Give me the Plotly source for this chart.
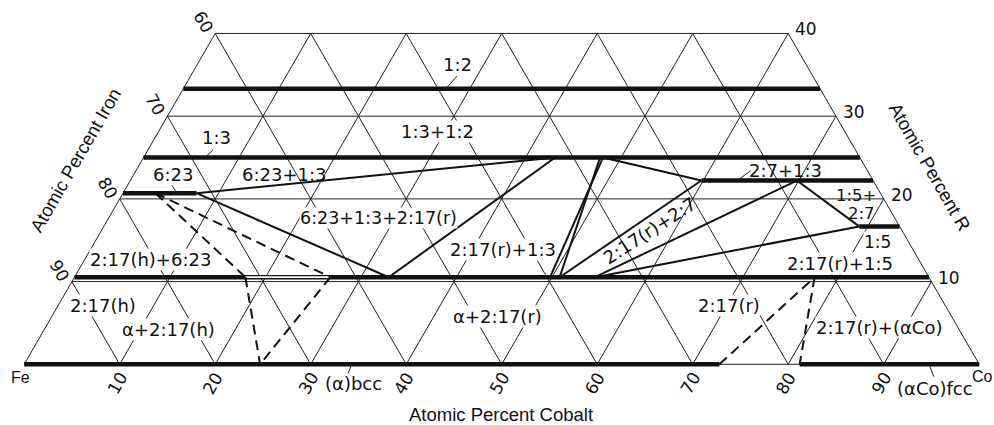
import numpy as np
import plotly.graph_objects as go

# ---------------- data (composition coordinates: at.% Co, at.% R) ----------------
# line compounds (constant R), Co range covered
cmp_names = ["1:2", "1:3", "2:7", "6:23", "1:5", "2:17"]
cmp_R = [33.33, 25.0, 22.22, 20.69, 16.67, 10.53]
cmp_co_lo = [0.0, 0.0, 59.8, 0.0, 79.1, 0.0]
cmp_co_hi = [66.67, 75.0, 77.78, 7.7, 83.33, 89.47]

# 2:17(h)+2:17(r) gap on the 2:17 line
gap217_co = [17.9, 26.8]

# terminal solid solutions on the Fe-Co edge
bcc_co = [0.0, 72.8]
fcc_co = [81.2, 100.0]

# solid tie lines (Co1, R1) -> (Co2, R2)
tie_co1 = [7.7, 7.7, 32.9, 48.1, 47.8, 48.1, 50.8, 54.5, 54.5, 69.8]
tie_r1 = [20.69, 20.69, 10.53, 25.0, 25.0, 25.0, 10.53, 10.53, 10.53, 22.22]
tie_co2 = [43.1, 32.9, 43.1, 49.8, 50.8, 59.8, 59.8, 69.8, 79.1, 79.1]
tie_r2 = [25.0, 10.53, 25.0, 10.53, 10.53, 22.22, 22.22, 22.22, 16.67, 16.67]

# dashed boundaries
dash1_co = [3.4, 17.9, 24.7]
dash1_r = [20.69, 10.53, 0.0]
dash2_co = [3.4, 26.8, 24.7]
dash2_r = [20.69, 10.53, 0.0]
dash3_co = [72.8, 77.5, 81.2]
dash3_r = [0.0, 10.53, 0.0]

# region / phase labels
lbl_text = ["1:2", "1:3+1:2", "1:3", "6:23", "6:23+1:3", "2:7+1:3", "1:5+", "2:7", "1:5",
            "6:23+1:3+2:17(r)", "2:17(r)+1:3", "2:17(r)+1:5", "2:17(h)+6:23", "2:17(h)",
            "α+2:17(h)", "α+2:17(r)", "2:17(r)", "2:17(r)+(αCo)", "(α)bcc", "(αCo)fcc",
            "2:17(r)+2:7"]
lbl_co = [27.27, 29.28, 6.5, 4.13, 15.76, 68.0, 76.9, 78.56, 82.0,
          28.25, 43.17, 79.3, 6.94, 4.68,
          12.99, 46.72, 70.2, 87.3, 35.63, 96.8,
          57.47]
lbl_r = [36.2, 28.09, 27.37, 22.89, 22.89, 23.49, 20.35, 18.2, 14.73,
         17.69, 13.94, 12.21, 12.67, 7.05,
         4.15, 5.78, 7.17, 4.39, -2.38, -2.87,
         16.12]
lbl_angle = [0] * 20 + [-33]
lbl_size = [18, 18, 18, 18, 18, 18, 16.5, 16.5, 17,
            17.5, 18, 18, 18, 18,
            18, 18, 18, 18, 18, 18,
            18]
lbl_bg = [True, True, True, True, False, False, False, False, True,
          True, True, True, True, True,
          True, True, True, True, False, False,
          False]

# leader lines
lead_co1 = [27.89, 6.81, 4.61, 64.37, 34.3, 94.75]
lead_r1 = [34.86, 25.93, 21.68, 23.41, 0.0, 0.0]
lead_co2 = [27.5, 6.43, 5.63, 63.56, 34.46, 96.0]
lead_r2 = [33.33, 25.0, 20.69, 22.22, -1.11, -1.5]

# axis tick labels
co_ticks = [10, 20, 30, 40, 50, 60, 70, 80, 90]
fe_ticks = [60, 70, 80, 90]
r_ticks = [40, 30, 20, 10]

R_MAX = 40
S3 = np.sqrt(3) / 2


def xy(co, r):
    return co + r / 2.0, r * S3


fig = go.Figure()


def add_segments(segs, width, color="#111111", dash=None):
    xs, ys = [], []
    for (c1, r1, c2, r2) in segs:
        x1, y1 = xy(c1, r1)
        x2, y2 = xy(c2, r2)
        xs += [x1, x2, None]
        ys += [y1, y2, None]
    fig.add_trace(go.Scatter(x=xs, y=ys, mode="lines",
                             line=dict(width=width, color=color, dash=dash),
                             hoverinfo="skip", showlegend=False))


# ---------------- grid ----------------
grid = []
for r in (10, 20, 30):
    grid.append((0, r, 100 - r, r))
grid.append((0, R_MAX, 100 - R_MAX, R_MAX))   # top
grid.append((0, 0, 100, 0))                   # bottom
grid.append((0, 0, 0, R_MAX))                 # left edge
grid.append((100, 0, 100 - R_MAX, R_MAX))     # right edge
for c in range(10, 100, 10):
    rm = min(R_MAX, 100 - c)
    grid.append((c, 0, c, rm))
for f in range(10, 100, 10):
    s = 100 - f
    rm = min(R_MAX, s)
    grid.append((s, 0, s - rm, rm))
add_segments(grid, 1.0, "#222222")

# ---------------- thick compound lines ----------------
thick = [(lo, r, hi, r) for lo, hi, r in zip(cmp_co_lo, cmp_co_hi, cmp_R)]
thick.append((bcc_co[0], 0, bcc_co[1], 0))
thick.append((fcc_co[0], 0, fcc_co[1], 0))
add_segments(thick, 4.5, "#111111")
add_segments([(gap217_co[0], cmp_R[5], gap217_co[1], cmp_R[5])], 1.8, "white")

# ---------------- tie lines ----------------
add_segments(list(zip(tie_co1, tie_r1, tie_co2, tie_r2)), 2.0, "#111111")

# ---------------- dashed boundaries ----------------
for cs, rs in ((dash1_co, dash1_r), (dash2_co, dash2_r), (dash3_co, dash3_r)):
    segs = [(cs[i], rs[i], cs[i + 1], rs[i + 1]) for i in range(len(cs) - 1)]
    add_segments(segs, 2.0, "#111111", dash="10px,6px")

# ---------------- leaders ----------------
add_segments(list(zip(lead_co1, lead_r1, lead_co2, lead_r2)), 1.0, "#222222")

# ---------------- annotations ----------------
ann = []
for t, c, r, a, s, bg in zip(lbl_text, lbl_co, lbl_r, lbl_angle, lbl_size, lbl_bg):
    x, y = xy(c, r)
    ann.append(dict(x=x, y=y, xref="x", yref="y", text=t, showarrow=False,
                    textangle=a,
                    font=dict(family="DejaVu Sans", size=s, color="#111111"),
                    xanchor="center", yanchor="middle",
                    bgcolor="white" if bg else None, borderpad=0))

TF = dict(family="DejaVu Sans", size=17, color="#111111")
for c in co_ticks:
    x, y = xy(c, 0)
    ann.append(dict(x=x, y=y, xref="x", yref="y", text=str(c), showarrow=False,
                    textangle=-60, font=TF, xshift=-2, yshift=-19))
for f in fe_ticks:
    x, y = xy(0, 100 - f)
    ann.append(dict(x=x, y=y, xref="x", yref="y", text=str(f), showarrow=False,
                    textangle=60, font=TF, xshift=-12, yshift=11))
for r in r_ticks:
    x, y = xy(100 - r, r)
    ann.append(dict(x=x, y=y, xref="x", yref="y", text=str(r), showarrow=False,
                    font=TF, xanchor="left", xshift=5, yshift=4))

AF = dict(family="Liberation Sans", size=18.5, color="#111111")
x, y = xy(50, 0)
ann.append(dict(x=x, y=y, xref="x", yref="y", text="Atomic Percent Cobalt",
                showarrow=False, font=AF, xshift=-1, yshift=-50))
x, y = xy(0, 23)
ann.append(dict(x=x, y=y, xref="x", yref="y", text="Atomic Percent Iron",
                showarrow=False, font=AF, textangle=-60, xshift=-59, yshift=14))
x, y = xy(100 - 23, 23)
ann.append(dict(x=x, y=y, xref="x", yref="y", text="Atomic Percent R",
                showarrow=False, font=AF, textangle=60, xshift=61, yshift=7))
x, y = xy(0, 0)
ann.append(dict(x=x, y=y, xref="x", yref="y", text="Fe", showarrow=False,
                font=dict(family="Liberation Sans", size=16, color="#111111"),
                xshift=-4, yshift=-13))
x, y = xy(100, 0)
ann.append(dict(x=x, y=y, xref="x", yref="y", text="Co", showarrow=False,
                font=dict(family="Liberation Sans", size=16, color="#111111"),
                xshift=3, yshift=-12))

W, H = 994, 425
PX = 9.55
X0, Y0 = 24.2, 364.3
fig.update_layout(
    width=W, height=H, margin=dict(l=0, r=0, t=0, b=0),
    paper_bgcolor="white", plot_bgcolor="white",
    xaxis=dict(range=[-X0 / PX, (W - X0) / PX], visible=False, fixedrange=True),
    yaxis=dict(range=[(Y0 - H) / PX, Y0 / PX], visible=False, fixedrange=True),
    annotations=ann, showlegend=False,
)
fig.write_html("out.html",
               config={"displayModeBar": False},
               post_script="document.body.style.margin='0px';"
                           "document.body.style.overflow='hidden';")
